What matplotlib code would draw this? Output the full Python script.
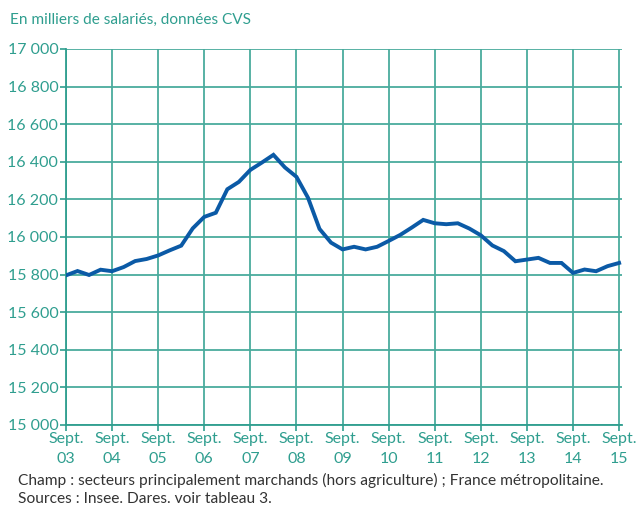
import matplotlib
matplotlib.use("Agg")
import matplotlib.pyplot as plt
import numpy as np

plt.rcParams['font.family'] = ['Lato', 'DejaVu Sans']

# Quarterly employment (thousands), Sept 2003 -> Sept 2015
values = [15796, 15819, 15798, 15826,
          15818, 15840, 15872, 15883,
          15902, 15929, 15954, 16046,
          16107, 16129, 16254, 16293,
          16357, 16396, 16437, 16370,
          16320, 16209, 16043, 15970,
          15934, 15948, 15934, 15948,
          15979, 16011, 16050, 16091,
          16073, 16068, 16073, 16045,
          16009, 15955, 15925, 15871,
          15880, 15889, 15862, 15862,
          15809, 15827, 15818, 15845,
          15862]
year_labels = ["03", "04", "05", "06", "07", "08", "09", "10", "11", "12", "13", "14", "15"]
y_ticks = [15000, 15200, 15400, 15600, 15800, 16000, 16200, 16400, 16600, 16800, 17000]
subtitle = "En milliers de salariés, données CVS"
note1 = "Champ : secteurs principalement marchands (hors agriculture) ; France métropolitaine."
note2 = "Sources : Insee. Dares. voir tableau 3."

teal = "#2f9e8f"
grid_teal = "#4aab9d"
blue = "#0b5aa6"
fs = 11.5

fig = plt.figure(figsize=(6.36, 5.07), dpi=100)
ax = fig.add_axes([66/636, 1-425/507, (622-66)/636, (425-49)/507])

x = np.arange(len(values))
ax.plot(x, values, color=blue, lw=2.8, solid_joinstyle='miter', zorder=3)

xt = np.arange(0, len(values), 4)
ax.set_xticks(xt)
ax.set_xticklabels([f"Sept.\n{y}" for y in year_labels], color=teal, fontsize=fs, linespacing=1.55)
ax.set_yticks(y_ticks)
ax.set_yticklabels([f"{v//1000} {v%1000:03d}" for v in y_ticks], color=teal, fontsize=fs)
ax.set_xlim(0, 48.25)
ax.set_ylim(15000, 17000)

ax.grid(True, color=grid_teal, lw=1.3)
ax.set_axisbelow(True)
for s in ['top', 'right']:
    ax.spines[s].set_visible(False)
for s in ['left', 'bottom']:
    ax.spines[s].set_color(teal)
    ax.spines[s].set_linewidth(1.3)
ax.tick_params(axis='both', colors=teal, length=4, width=1.2, pad=2)
ax.tick_params(axis='x', labelcolor=teal, pad=1)
ax.tick_params(axis='y', labelcolor=teal, pad=1.5)

fig.text(10/636, 1-20/507, subtitle, color=teal, fontsize=11.1, va='center', ha='left')
fig.text(18/636, 1-480/507, note1, color='#333333', fontsize=11.2, va='center', ha='left')
fig.text(18/636, 1-499/507, note2, color='#333333', fontsize=11.2, va='center', ha='left')

fig.savefig("out.png", dpi=100)
